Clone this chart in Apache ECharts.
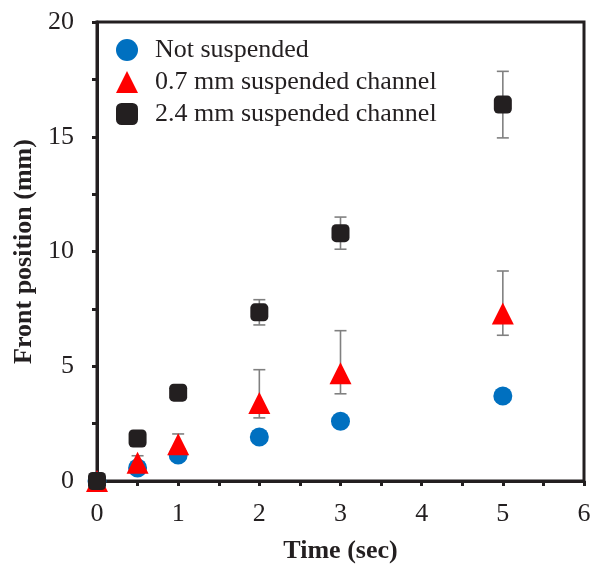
<!DOCTYPE html>
<html>
<head>
<meta charset="utf-8">
<script src="https://cdn.jsdelivr.net/npm/echarts@6/dist/echarts.min.js"></script>
<style>
  body { margin: 0; background: #fff; }
  #chart { width: 600px; height: 566px; }
</style>
</head>
<body>
<div id="chart"></div>
<script>
  // time points (sec)
  let times = [0, 0.5, 1, 2, 3, 5]
  let names = ['Not suspended', '0.7 mm suspended channel', '2.4 mm suspended channel']
  // front position (mm)
  let notSuspended = [0, 0.57, 1.13, 1.92, 2.6, 3.7]
  let mm07 = [0, 0.8, 1.6, 3.4, 4.7, 7.3]
  let mm24 = [0, 1.85, 3.85, 7.35, 10.8, 16.4]
  // error bars (lower, upper)
  let mm07Low = [0, 0.55, 1.2, 2.75, 3.8, 6.35]
  let mm07High = [0, 1.1, 2.05, 4.85, 6.55, 9.15]
  let mm24Low = [0, 1.6, 3.6, 6.8, 10.1, 14.95]
  let mm24High = [0, 2.1, 4.1, 7.9, 11.5, 17.85]

  let font = 'Liberation Serif, Times New Roman, serif'
  let ink = '#231f20'
  let myChart = echarts.init(document.getElementById('chart'))

  function pairs (ys) {
    return times.map((t, i) => [t, ys[i]])
  }
  function bars (lo, hi) {
    return times.map((t, i) => [t, lo[i], hi[i]])
  }
  function errorSeries (lo, hi) {
    return {
      type: 'custom',
      z: 1,
      silent: true,
      data: bars(lo, hi),
      encode: { x: 0, y: [1, 2] },
      renderItem: function (params, api) {
        let top = api.coord([api.value(0), api.value(2)])
        let bot = api.coord([api.value(0), api.value(1)])
        let w = 6
        let style = { stroke: '#808080', lineWidth: 1.6 }
        return {
          type: 'group',
          children: [
            { type: 'line', shape: { x1: top[0], y1: top[1], x2: bot[0], y2: bot[1] }, style: style },
            { type: 'line', shape: { x1: top[0] - w, y1: top[1], x2: top[0] + w, y2: top[1] }, style: style },
            { type: 'line', shape: { x1: bot[0] - w, y1: bot[1], x2: bot[0] + w, y2: bot[1] }, style: style }
          ]
        }
      }
    }
  }

  let tickStyle = { width: 3, color: ink }
  let option = {
    animation: false,
    backgroundColor: '#fff',
    grid: {
      left: 97,
      right: 16,
      top: 22,
      bottom: 85,
      outerBoundsMode: 'none',
      show: true,
      borderColor: ink,
      borderWidth: 3
    },
    legend: {
      data: names,
      orient: 'vertical',
      left: 111,
      top: 32,
      itemWidth: 22,
      itemHeight: 22,
      itemGap: 6,
      textStyle: { fontFamily: font, fontSize: 26, color: ink, padding: [0, 0, 0, 12] }
    },
    xAxis: {
      type: 'value',
      min: 0,
      max: 6,
      interval: 1,
      name: 'Time (sec)',
      nameLocation: 'middle',
      nameGap: 57,
      nameTextStyle: { fontFamily: font, fontSize: 26, fontWeight: 'bold', color: ink },
      axisLine: { lineStyle: { color: ink, width: 3 } },
      axisTick: { inside: false, length: 5, lineStyle: tickStyle },
      minorTick: { show: true, splitNumber: 2, length: 5, lineStyle: tickStyle },
      splitLine: { show: false },
      axisLabel: { fontFamily: font, fontSize: 26, color: ink, margin: 20 }
    },
    yAxis: {
      type: 'value',
      min: 0,
      max: 20,
      interval: 5,
      name: 'Front position (mm)',
      nameLocation: 'middle',
      nameGap: 53,
      nameTextStyle: { fontFamily: font, fontSize: 26, fontWeight: 'bold', color: ink },
      axisLine: { show: true, lineStyle: { color: ink, width: 3 } },
      axisTick: { show: true, inside: false, length: 5, lineStyle: tickStyle },
      minorTick: { show: true, splitNumber: 2, length: 5, lineStyle: tickStyle },
      splitLine: { show: false },
      axisLabel: { fontFamily: font, fontSize: 26, color: ink, margin: 23 }
    },
    series: [
      errorSeries(mm07Low, mm07High),
      errorSeries(mm24Low, mm24High),
      {
        name: names[0],
        type: 'scatter',
        z: 2,
        symbol: 'circle',
        symbolSize: 19,
        itemStyle: { color: '#0070c0', opacity: 1 },
        data: pairs(notSuspended)
      },
      {
        name: names[1],
        type: 'scatter',
        z: 3,
        symbol: 'triangle',
        symbolSize: 22,
        itemStyle: { color: '#ff0000', opacity: 1 },
        data: pairs(mm07)
      },
      {
        name: names[2],
        type: 'scatter',
        z: 4,
        symbol: 'roundRect',
        symbolSize: 18,
        itemStyle: { color: ink, opacity: 1 },
        data: pairs(mm24)
      }
    ]
  }
  myChart.setOption(option)
</script>
</body>
</html>
